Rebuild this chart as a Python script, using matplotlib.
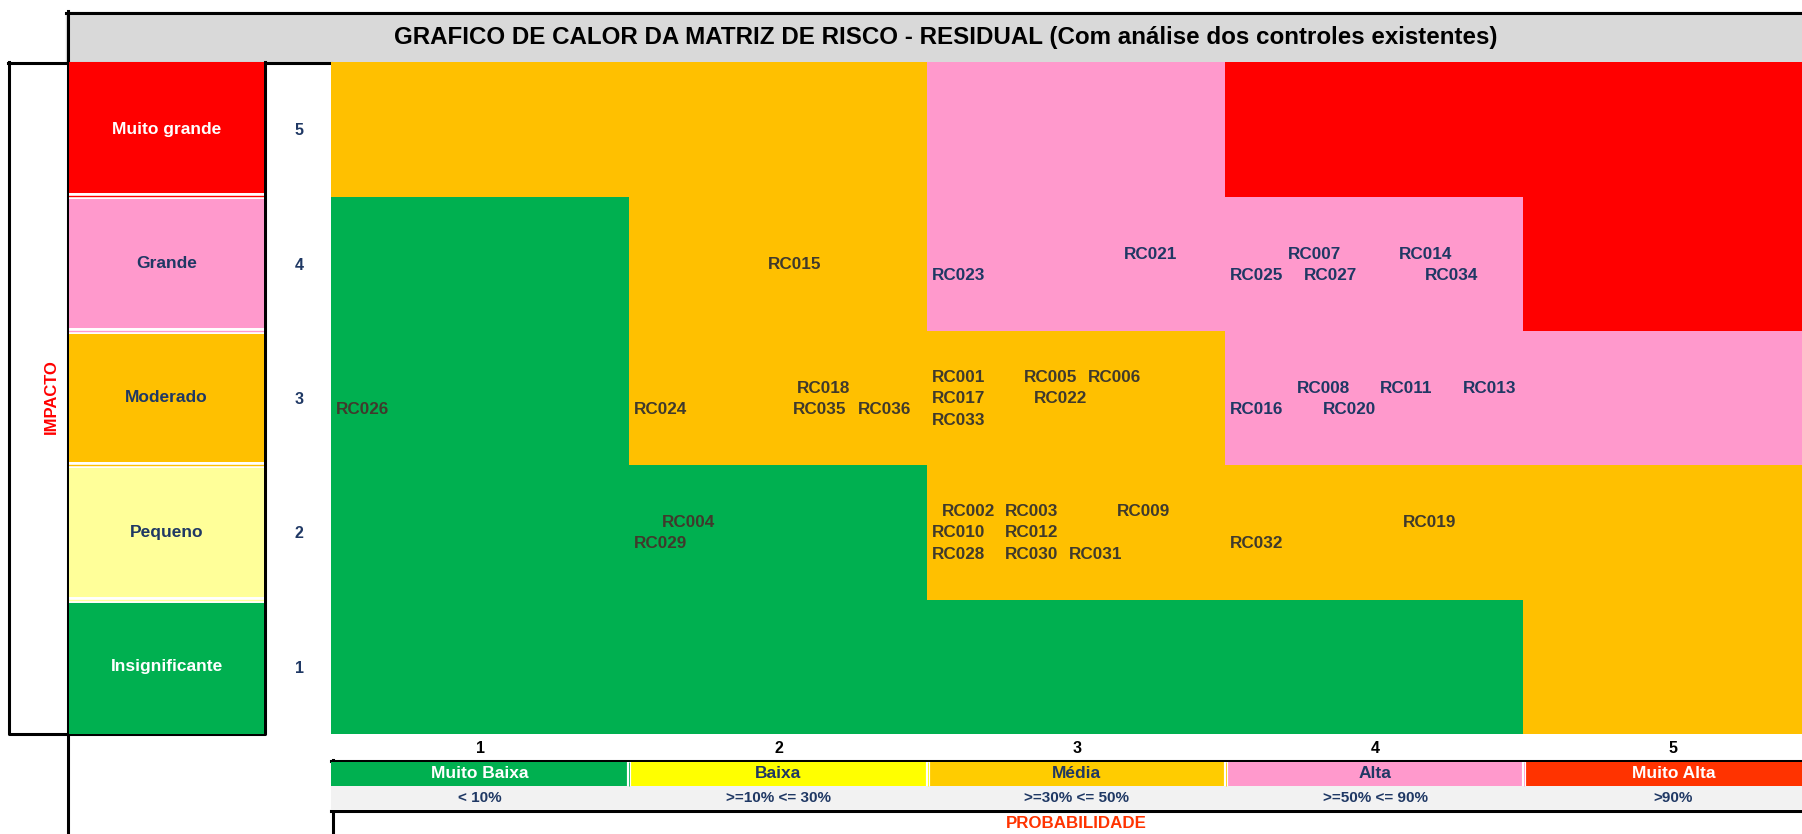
import matplotlib
matplotlib.use('Agg')
import matplotlib.pyplot as plt
from matplotlib.colors import ListedColormap
import numpy as np

plt.rcParams['font.family'] = ['Liberation Sans', 'DejaVu Sans']
plt.rcParams['font.weight'] = 'bold'

# dados da matriz
impact_levels = [1, 2, 3, 4, 5]
impact_labels = ['Insignificante', 'Pequeno', 'Moderado', 'Grande', 'Muito grande']
prob_levels = [1, 2, 3, 4, 5]
prob_labels = ['Muito Baixa', 'Baixa', 'Média', 'Alta', 'Muito Alta']
prob_ranges = ['< 10%', '>=10% <= 30%', '>=30% <= 50%', '>=50% <= 90%', '>90%']

# nivel de risco por celula (linha = impacto 1..5, coluna = probabilidade 1..5)
# 0 = baixo, 1 = medio, 2 = alto, 3 = extremo
risk_level = [
    [0, 0, 0, 0, 1],
    [0, 0, 1, 1, 1],
    [0, 1, 1, 2, 2],
    [0, 1, 2, 2, 3],
    [1, 1, 2, 3, 3],
]

risk_codes = ['RC015', 'RC023', 'RC021', 'RC007', 'RC014', 'RC025', 'RC027', 'RC034',
              'RC026', 'RC024', 'RC018', 'RC035', 'RC036', 'RC001', 'RC017', 'RC033',
              'RC005', 'RC006', 'RC022', 'RC016', 'RC008', 'RC011', 'RC013', 'RC020',
              'RC004', 'RC029', 'RC002', 'RC003', 'RC009', 'RC010', 'RC012', 'RC028',
              'RC030', 'RC031', 'RC032', 'RC019']
risk_prob = [2, 3, 3, 4, 4, 4, 4, 4,
             1, 2, 2, 2, 2, 3, 3, 3,
             3, 3, 3, 4, 4, 4, 4, 4,
             2, 2, 3, 3, 3, 3, 3, 3,
             3, 3, 4, 4]
risk_impact = [4, 4, 4, 4, 4, 4, 4, 4,
               3, 3, 3, 3, 3, 3, 3, 3,
               3, 3, 3, 3, 3, 3, 3, 3,
               2, 2, 2, 2, 2, 2, 2, 2,
               2, 2, 2, 2]

# posicao do rotulo dentro da celula (fracao a partir da borda esquerda, deslocamento vertical)
label_offsets = {
    'RC015': (0.465, -0.01), 'RC023': (0.015, -0.092), 'RC021': (0.658, 0.071),
    'RC007': (0.208, 0.071), 'RC014': (0.580, 0.071), 'RC025': (0.014, -0.092),
    'RC027': (0.260, -0.092), 'RC034': (0.666, -0.092),
    'RC026': (0.017, -0.089), 'RC024': (0.016, -0.089), 'RC018': (0.562, 0.074),
    'RC035': (0.548, -0.089), 'RC036': (0.766, -0.089), 'RC001': (0.015, 0.156),
    'RC017': (0.015, -0.007), 'RC033': (0.015, -0.171), 'RC005': (0.323, 0.156),
    'RC006': (0.538, 0.156), 'RC022': (0.357, -0.007), 'RC016': (0.014, -0.089),
    'RC008': (0.238, 0.074), 'RC011': (0.517, 0.074), 'RC013': (0.794, 0.074),
    'RC020': (0.324, -0.089),
    'RC004': (0.110, 0.077), 'RC029': (0.016, -0.086), 'RC002': (0.047, 0.159),
    'RC003': (0.259, 0.159), 'RC009': (0.633, 0.159), 'RC010': (0.015, -0.004),
    'RC012': (0.259, -0.004), 'RC028': (0.015, -0.168), 'RC030': (0.259, -0.168),
    'RC031': (0.474, -0.168), 'RC032': (0.014, -0.086), 'RC019': (0.594, 0.077),
}

# cores
GREEN, ORANGE, PINK, RED = '#00B050', '#FFC000', '#FF99CC', '#FF0000'
NAVY = '#1F3864'
DARK = '#403A2C'
level_colors = [GREEN, ORANGE, PINK, RED]
impact_colors = [GREEN, '#FFFF99', ORANGE, PINK, RED]
impact_text = ['white', NAVY, NAVY, NAVY, 'white']
prob_colors = [GREEN, '#FFFF00', '#FFCC00', PINK, '#FF3300']
prob_text = ['white', NAVY, NAVY, NAVY, 'white']

W, H = 1802, 834
COL_W = 298.3
fig = plt.figure(figsize=(W / 100, H / 100), dpi=100)


def px_axes(x0, y0, x1, y1):
    return fig.add_axes([x0 / W, 1 - y1 / H, (x1 - x0) / W, (y1 - y0) / H])


# fundo com molduras e titulo (coordenadas em pixels)
bg = px_axes(0, 0, W, H)
bg.set_xlim(0, W)
bg.set_ylim(H, 0)
bg.axis('off')
LW = 2.2
bg.fill_between([66, W], 12, 62, color='#D9D9D9', zorder=0)
bg.plot([66, W], [12.5, 12.5], color='black', lw=LW)
bg.plot([67.5, 67.5], [11, H], color='black', lw=LW)
bg.plot([8, 331], [62.5, 62.5], color='black', lw=LW)
bg.plot([8.5, 8.5, 265, 265], [62, 734, 734, 62], color='black', lw=LW)
bg.plot([331, W], [761, 761], color='black', lw=LW)
bg.plot([331, W], [811, 811], color='black', lw=LW)
bg.plot([332.5, 332.5], [760, H], color='black', lw=LW)
bg.text(946, 37, 'GRAFICO DE CALOR DA MATRIZ DE RISCO - RESIDUAL (Com análise dos controles existentes)',
        ha='center', va='center', fontsize=17.4, color='black')
bg.text(51, 397, 'IMPACTO', rotation=90, ha='center', va='center', fontsize=12, color='#FF0000')

# mapa de calor
ax = px_axes(331, 62, W, 734)
cmap = ListedColormap(level_colors)
ax.imshow(np.array(risk_level), origin='lower', cmap=cmap, vmin=-0.5, vmax=3.5,
          extent=(0.5, 5.5, 0.5, 5.5), aspect='auto', interpolation='nearest')
ax.set_xlim(0.5, 0.5 + (W - 331) / COL_W)
ax.set_ylim(0.5, 5.5)
for s in ax.spines.values():
    s.set_visible(False)
ax.set_xticks(prob_levels, labels=[str(p) for p in prob_levels])
ax.set_yticks(impact_levels, labels=[str(i) for i in impact_levels])
ax.tick_params(axis='x', length=0, pad=5, labelsize=11.5, labelcolor='black')
ax.tick_params(axis='y', length=0, pad=23, labelsize=11.5, labelcolor=NAVY)
for lbl in ax.get_yticklabels():
    lbl.set_ha('center')

for code, p, i in zip(risk_codes, risk_prob, risk_impact):
    dx, dy = label_offsets[code]
    lvl = risk_level[i - 1][p - 1]
    ax.text(p - 0.5 + dx, i + dy, code, ha='left', va='center', fontsize=12.3,
            color=NAVY if lvl == 2 else DARK)

# coluna de impacto
ai = px_axes(69, 62, 264, 734)
ai.barh(impact_levels, [1] * 5, height=1, color=impact_colors)
ai.set_xlim(0, 1)
ai.set_ylim(0.5, 5.5)
ai.axis('off')
for k in range(4):
    yb = impact_levels[k] + 0.5
    ai.axhline(yb, color='white', lw=4.3)
    ai.axhline(yb, color=impact_colors[k + 1], lw=1.0)
for i, lab, tc in zip(impact_levels, impact_labels, impact_text):
    ai.text(0.5, i, lab, ha='center', va='center', fontsize=12.5, color=tc)

# legenda de probabilidade
al = px_axes(331, 762, W, 810)
al.bar(prob_levels, [1.0] * 5, width=1, bottom=1.04, color=prob_colors)
al.bar(prob_levels, [1.04] * 5, width=1, bottom=0, color='#F2F2F2')
al.set_xlim(0.5, 0.5 + (W - 331) / COL_W)
al.set_ylim(0, 2.04)
al.axis('off')
for p in prob_levels[:-1]:
    al.vlines(p + 0.5, 1.04, 2.04, color='white', lw=3.0)
    al.vlines(p + 0.5, 1.04, 2.04, color=prob_colors[p - 1], lw=0.6)
for p, lab, rng, tc in zip(prob_levels, prob_labels, prob_ranges, prob_text):
    al.text(p, 1.54, lab, ha='center', va='center', fontsize=12.5, color=tc)
    al.text(p, 0.52, rng, ha='center', va='center', fontsize=11, color=NAVY)
al.annotate('PROBABILIDADE', xy=(3, 0), xycoords=('data', 'axes fraction'),
            xytext=(0, -14), textcoords='offset pixels', ha='center', va='center',
            fontsize=12.2, color='#FF3300')

fig.savefig('out.png', dpi=100)
